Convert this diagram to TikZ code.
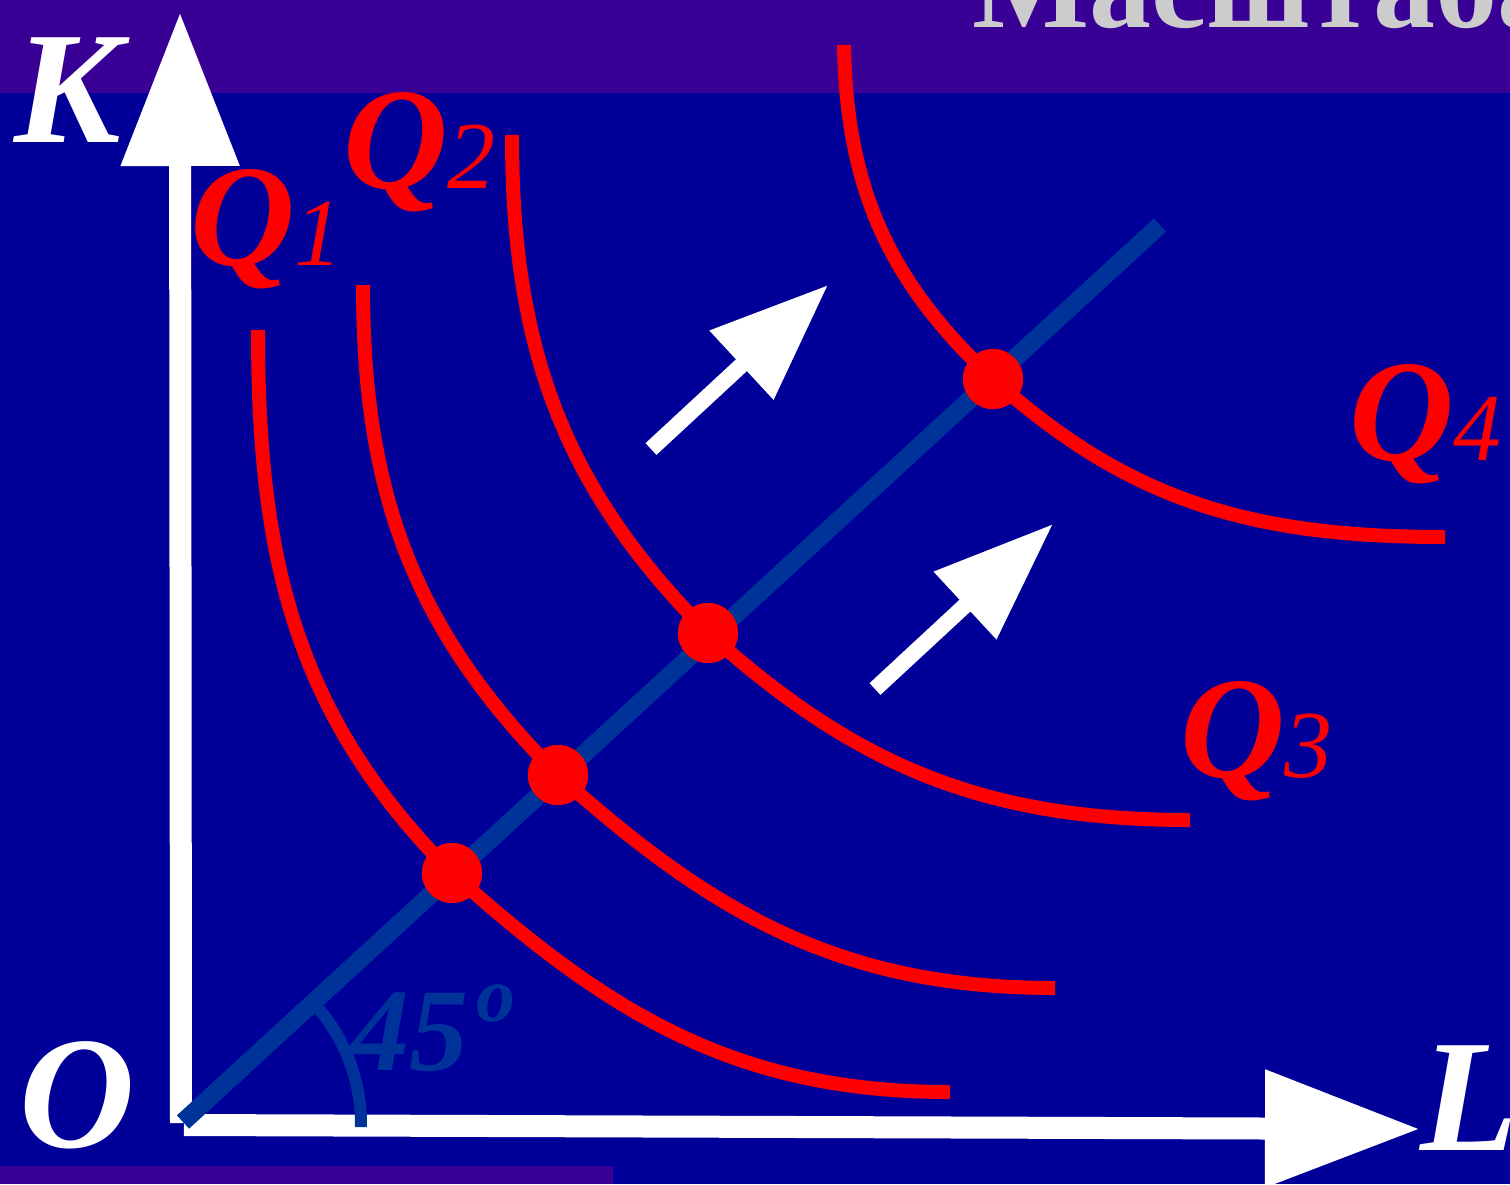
\documentclass[tikz,border=0pt]{standalone}
\usepackage{fontspec}
\setmainfont{Liberation Serif}
\usetikzlibrary{arrows.meta}
\definecolor{bandpurple}{RGB}{56,0,148}
\definecolor{bgblue}{RGB}{0,0,153}
\definecolor{diagblue}{RGB}{0,51,153}
\definecolor{titlegrey}{RGB}{204,204,204}
\tikzset{
  curve/.style={draw=red, line width=14pt},
  dot/.style={circle, fill=red, minimum size=60pt, inner sep=0pt},
  axis/.style={draw=white, line width=22pt},
  shiftarrow/.style={draw=white, fill=white, line width=16pt},
  qlabel/.style={text=red, anchor=base west, inner sep=0pt},
  axlabel/.style={text=white, anchor=base west, inner sep=0pt, font=\fontsize{160}{160}\selectfont\bfseries\itshape},
}
\newcommand{\qlab}[1]{{\fontsize{145}{145}\selectfont\bfseries\itshape Q{\fontsize{96}{96}\selectfont\mdseries #1}}}
\begin{document}
\begin{tikzpicture}[x=1pt,y=1pt]
\useasboundingbox (0,0) rectangle (1510,-1184);
% backgrounds
\fill[bgblue] (0,-93) rectangle (1510,-1184);
\fill[bandpurple] (0,0) rectangle (1510,-93);
\fill[bandpurple] (0,-1166) rectangle (613,-1184);
% title (cut off)
\node[text=titlegrey, anchor=base west, inner sep=0pt, font=\fontsize{124}{124}\selectfont\bfseries] (title) at (972,-27) {Масштаба};
% axes
\coordinate (O) at (183,-1124);
\coordinate (ybot) at (181,-1123);
\coordinate (ytip) at (180,-12);
\coordinate (xbot) at (184,-1125);
\coordinate (xtip) at (1420,-1129);
\draw[axis, -{Triangle[length=154pt,width=113pt]}] (ybot) -- (ytip);
\draw[axis, -{Triangle[length=155pt,width=112pt]}] (xbot) -- (xtip);
% diagonal ray
\coordinate (dstart) at (183,-1122);
\coordinate (dend) at (1160,-225);
\draw[diagblue, line width=18pt] (dstart) -- (dend);
% angle arc
\draw[diagblue, line width=12pt] (O) ++(43:178) arc[start angle=43, end angle=-1, radius=178];
\node[text=diagblue, anchor=base west, inner sep=0pt, font=\fontsize{118}{118}\selectfont\bfseries\itshape] (ang) at (350,-1070) {45};
\node[text=diagblue, anchor=base west, inner sep=0pt, font=\fontsize{78}{78}\selectfont\bfseries\itshape] (deg) at (476,-1021) {o};
% dots
\node[dot] (d1) at (452,-873) {};
\node[dot] (d2) at (558,-775) {};
\node[dot] (d3) at (708,-633) {};
\node[dot] (d4) at (993,-379) {};
% isoquants
\coordinate (s1) at (258,-330); \coordinate (e1) at (950,-1092);
\coordinate (s2) at (363,-285); \coordinate (e2) at (1055,-988);
\coordinate (s3) at (512,-135); \coordinate (e3) at (1190,-820);
\coordinate (s4) at (844,-45);  \coordinate (e4) at (1445,-537);
\draw[curve] (s1) to[out=-90,in=135] (d1.center) to[out=-42,in=180] (e1);
\draw[curve] (s2) to[out=-90,in=135] (d2.center) to[out=-42,in=180] (e2);
\draw[curve] (s3) to[out=-90,in=135] (d3.center) to[out=-42,in=180] (e3);
\draw[curve] (s4) to[out=-89,in=137] (d4.center) to[out=-42,in=180] (e4);
\node[dot] at (d1) {};
\node[dot] at (d2) {};
\node[dot] at (d3) {};
\node[dot] at (d4) {};
% shift arrows
\coordinate (a1s) at (651,-449); \coordinate (a1t) at (828,-285);
\coordinate (a2s) at (875,-689); \coordinate (a2t) at (1053,-524);
\draw[shiftarrow, -{Triangle[length=118pt,width=90pt]}] (a1s) -- (a1t);
\draw[shiftarrow, -{Triangle[length=120pt,width=88pt]}] (a2s) -- (a2t);
% labels
\node[qlabel] (q1) at (190,-265) {\qlab{1}};
\node[qlabel] (q2) at (343,-188) {\qlab{2}};
\node[qlabel] (q3) at (1180,-777) {\qlab{3}};
\node[qlabel] (q4) at (1349,-460) {\qlab{4}};
\node[axlabel] (K) at (14,-142) {K};
\node[axlabel] (Olab) at (19,-1147) {O};
\node[axlabel] (L) at (1420,-1150) {L};
\end{tikzpicture}
\end{document}
